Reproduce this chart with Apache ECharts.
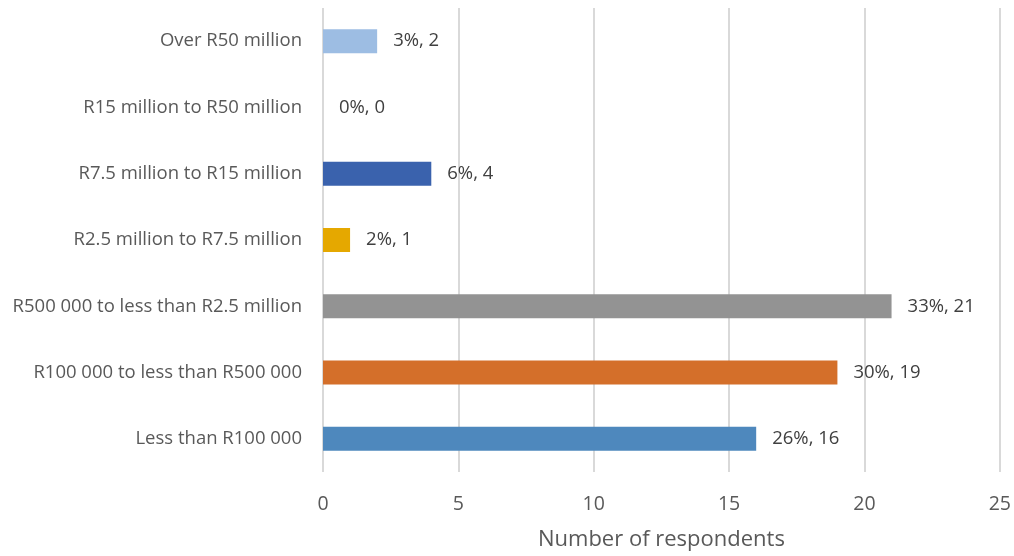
<!DOCTYPE html>
<html><head><meta charset="utf-8">
<script src="https://cdn.jsdelivr.net/npm/echarts@6/dist/echarts.min.js"></script>
<style>html,body{margin:0;padding:0;background:#fff;overflow:hidden;width:100%;height:100%}#c{width:100vw;height:100vh}</style>
</head><body><div id="c"></div>
<script>
const categories = ["Less than R100 000","R100 000 to less than R500 000","R500 000 to less than R2.5 million","R2.5 million to R7.5 million","R7.5 million to R15 million","R15 million to R50 million","Over R50 million"];
const counts = [16, 19, 21, 1, 4, 0, 2];
const percents = ["26%","30%","33%","2%","6%","0%","3%"];
const xTicks = [0, 5, 10, 15, 20, 25];
const barColors = ["#4e88bd","#d46f2a","#939393","#e5a800","#3a62ad","#9dc3e6","#9dbde3"];
const font = "'Open Sans', 'Noto Sans', sans-serif";
const chart = echarts.init(document.getElementById('c'));
chart.setOption({
  animation: false,
  grid: {left: 323, right: 13, top: 8, bottom: 76, containLabel: false},
  xAxis: {
    type: 'value', min: xTicks[0], max: xTicks[xTicks.length-1], interval: 5,
    name: 'Number of respondents', nameLocation: 'middle', nameGap: 57,
    nameTextStyle: {fontFamily: font, fontSize: 22, color: '#595959'},
    axisLine: {show: false}, axisTick: {show: false},
    axisLabel: {fontFamily: font, fontSize: 19.5, color: '#595959', margin: 22},
    splitLine: {show: true, lineStyle: {color: '#d9d9d9', width: 2}}
  },
  yAxis: {
    type: 'category', data: categories,
    axisLine: {show: false}, axisTick: {show: false},
    axisLabel: {fontFamily: font, fontSize: 18.5, color: '#595959', margin: 21}
  },
  series: [{
    type: 'bar', barWidth: 24,
    data: counts.map((v, i) => ({value: v, itemStyle: {color: barColors[i]}})),
    label: {
      show: true, position: 'right', distance: 16,
      fontFamily: font, fontSize: 18.5, color: '#404040',
      formatter: p => percents[p.dataIndex] + ', ' + p.value
    }
  }]
});
</script></body></html>
